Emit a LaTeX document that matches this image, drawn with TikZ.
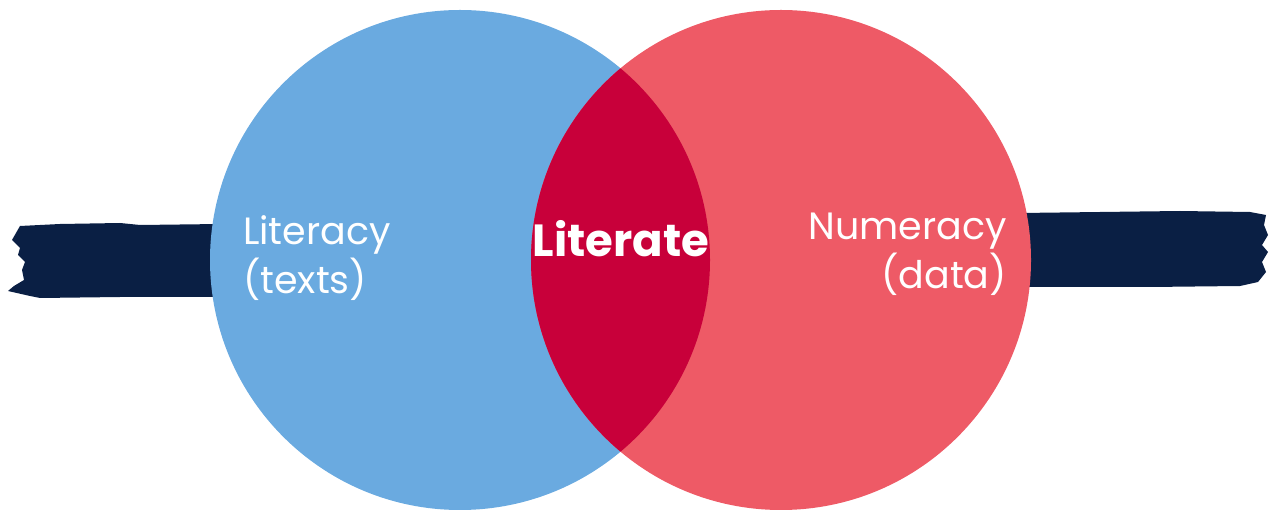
\documentclass[tikz,border=0pt]{standalone}
\usepackage{fontspec}
\setmainfont{Poppins}
\definecolor{navy}{HTML}{0A1F44}
\definecolor{vblue}{HTML}{6AAAE0}
\definecolor{vred}{HTML}{EE5A66}
\definecolor{vcrimson}{HTML}{C8003A}
\tikzset{
  lbl/.style={text=white, font=\fontsize{38}{48}\selectfont, inner sep=0pt},
  boldlbl/.style={text=white, font=\fontsize{45}{54}\selectfont\bfseries, inner sep=0pt},
}
\begin{document}
\begin{tikzpicture}[x=1pt,y=-1pt]
\useasboundingbox (0,0) rectangle (1274,510);
% brush bars
\fill[navy] (20,226) -- (60,224) -- (120,223) -- (140,225) -- (220,224) -- (220,297)
  -- (120,297) -- (40,298) -- (30,296) -- (8,291) -- (14,286) -- (24,280) -- (22,270)
  -- (25,262) -- (18,255) -- (20,248) -- (12,240) -- (16,233) -- cycle;
\fill[navy] (1020,213) -- (1100,212) -- (1180,211) -- (1250,212) -- (1266,215)
  -- (1264,225) -- (1268,235) -- (1262,245) -- (1268,252) -- (1262,262) -- (1266,272)
  -- (1258,282) -- (1240,286) -- (1150,287) -- (1020,287) -- cycle;
% circles
\node[circle, fill=vblue, minimum size=500pt, inner sep=0pt] (blue) at (460,260) {};
\node[circle, fill=vred, minimum size=500pt, inner sep=0pt] (red) at (781,260) {};
\begin{scope}
  \clip (460,260) circle[radius=250];
  \fill[vcrimson] (781,260) circle[radius=250];
\end{scope}
% labels
\node[lbl, anchor=base west] (lit) at (243,245) {Literacy};
\node[lbl, anchor=base west] (litt) at (243,294) {(texts)};
\node[lbl, anchor=base east] (num) at (1007,240) {Numeracy};
\node[lbl, anchor=base east] (numd) at (1007,289) {(data)};
\node[boldlbl, anchor=base] (lite) at (621,257) {Literate};
\end{tikzpicture}
\end{document}
